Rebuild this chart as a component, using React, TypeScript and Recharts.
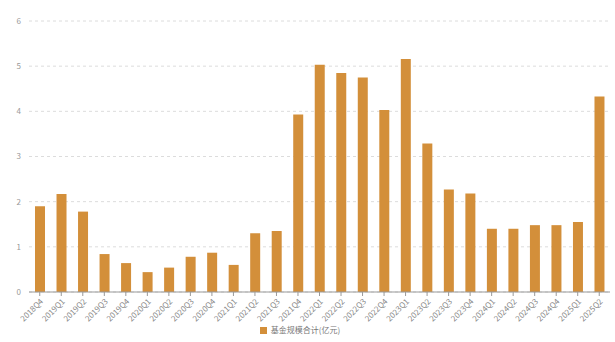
import React from 'react';
import { BarChart, Bar, XAxis, YAxis, CartesianGrid, Legend } from 'recharts';

const quarters = [
  '2018Q4', '2019Q1', '2019Q2', '2019Q3', '2019Q4', '2020Q1', '2020Q2', '2020Q3', '2020Q4',
  '2021Q1', '2021Q2', '2021Q3', '2021Q4', '2022Q1', '2022Q2', '2022Q3', '2022Q4',
  '2023Q1', '2023Q2', '2023Q3', '2023Q4', '2024Q1', '2024Q2', '2024Q3', '2024Q4',
  '2025Q1', '2025Q2',
];
const fundTotal = [
  1.9, 2.17, 1.78, 0.84, 0.64, 0.44, 0.54, 0.78, 0.87,
  0.6, 1.3, 1.35, 3.93, 5.03, 4.85, 4.75, 4.03,
  5.16, 3.29, 2.27, 2.18, 1.4, 1.4, 1.48, 1.48,
  1.55, 4.33,
];
const yTicks = [0, 1, 2, 3, 4, 5, 6];
const seriesName = '基金规模合计(亿元)';

const data = quarters.map((q, i) => ({ q, v: fundTotal[i] }));
const font = '"Noto Sans CJK SC", "Noto Sans", sans-serif';

const App: React.FC = () => (
  <div style={{ position: 'absolute', left: 0, top: 0, width: 615, height: 342, background: '#fff', fontFamily: font }}>
    <BarChart width={615} height={342} data={data} margin={{ top: 21, right: 5, left: 0, bottom: 0 }}>
      <CartesianGrid vertical={false} stroke="#dcdcdc" strokeDasharray="3 3" />
      <XAxis
        dataKey="q"
        interval={0}
        height={32}
        angle={-45}
        textAnchor="end"
        tickSize={4}
        axisLine={{ stroke: '#999' }}
        tickLine={{ stroke: '#999' }}
        tick={{ fontSize: 8, fill: '#888' }}
      />
      <YAxis
        width={29}
        domain={[0, 6]}
        ticks={yTicks}
        axisLine={false}
        tickLine={false}
        tick={{ fontSize: 8, fill: '#999' }}
      />
      <Legend
        verticalAlign="bottom"
        height={18}
        iconType="square"
        iconSize={7}
        wrapperStyle={{ fontSize: 8, color: '#777' }}
        formatter={(v) => <span style={{ color: '#777' }}>{v}</span>}
      />
      <Bar dataKey="v" name={seriesName} fill="#d38f3a" barSize={10} isAnimationActive={false} />
    </BarChart>
  </div>
);

export default App;
